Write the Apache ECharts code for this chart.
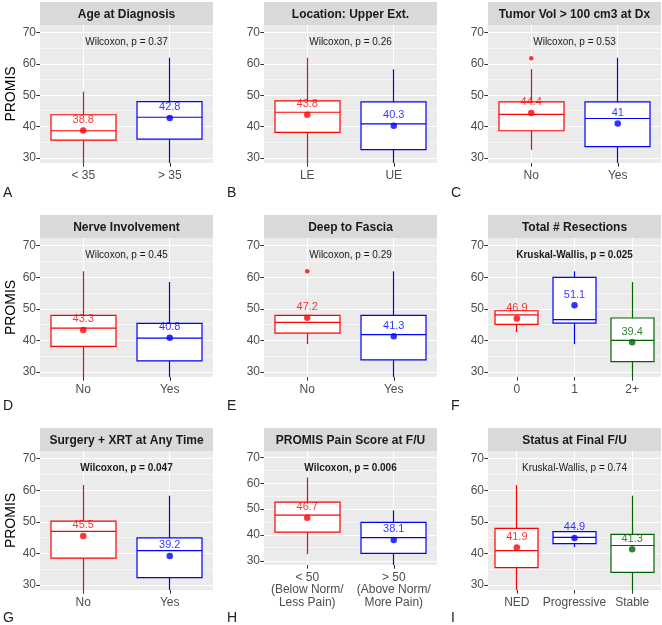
<!DOCTYPE html>
<html>
<head>
<meta charset="utf-8">
<script src="https://cdn.jsdelivr.net/npm/echarts@6/dist/echarts.min.js"></script>
<style>
  html, body { margin: 0; padding: 0; background: #fff; }
  #box { width: 662px; height: 625px; }
</style>
</head>
<body>
<div id="box"></div>
<script>
// 九个面板 (A..I)
var panelTitles = ['Age at Diagnosis', 'Location: Upper Ext.', 'Tumor Vol > 100 cm3 at Dx',
  'Nerve Involvement', 'Deep to Fascia', 'Total # Resections',
  'Surgery + XRT at Any Time', 'PROMIS Pain Score at F/U', 'Status at Final F/U'];
var panelLetters = ['A', 'B', 'C', 'D', 'E', 'F', 'G', 'H', 'I'];
var testLabels = ['Wilcoxon, p = 0.37', 'Wilcoxon, p = 0.26', 'Wilcoxon, p = 0.53',
  'Wilcoxon, p = 0.45', 'Wilcoxon, p = 0.29', 'Kruskal-Wallis, p = 0.025',
  'Wilcoxon, p = 0.047', 'Wilcoxon, p = 0.006', 'Kruskal-Wallis, p = 0.74'];
var testBold = [false, false, false, false, false, true, true, true, false];

var categories = [
  ['< 35', '> 35'],
  ['LE', 'UE'],
  ['No', 'Yes'],
  ['No', 'Yes'],
  ['No', 'Yes'],
  ['0', '1', '2+'],
  ['No', 'Yes'],
  ['< 50\n(Below Norm/\nLess Pain)', '> 50\n(Above Norm/\nMore Pain)'],
  ['NED', 'Progressive', 'Stable']
];

// 箱线: 下须, Q1, 中位数, Q3, 上须
var boxStats = [
  [[27, 35.7, 38.7, 43.8, 51.2], [27, 36, 43, 48, 62]],
  [[27, 38.2, 44.6, 48.2, 62], [27, 32.7, 40.9, 47.9, 58.3]],
  [[32.6, 38.7, 43.9, 47.9, 58.4], [27, 33.6, 42.6, 47.9, 62]],
  [[27, 38.1, 43.9, 47.9, 61.9], [27, 33.5, 40.7, 45.4, 58.5]],
  [[38.8, 42.3, 45.7, 47.9, 47.9], [27, 33.8, 41.8, 47.9, 61.9]],
  [[42.6, 45.1, 48.1, 49.4, 49.4], [38.8, 45.5, 46.6, 60, 61.9], [27, 33.3, 40, 47.1, 58.5]],
  [[27, 38.5, 47, 50.2, 61.7], [27, 32.3, 40.9, 44.9, 58.3]],
  [[32.6, 41.1, 47.7, 52.7, 62.2], [27, 32.9, 39, 44.9, 49.5]],
  [[27, 35.5, 40.9, 47.9, 61.7], [42, 43.1, 45.1, 46.9, 46.9], [27, 34, 42.5, 46, 58.3]]
];

// 均值
var means = [
  [38.8, 42.8], [43.8, 40.3], [44.4, 41],
  [43.3, 40.8], [47.2, 41.3], [46.9, 51.1, 39.4],
  [45.5, 39.2], [46.7, 38.1], [41.9, 44.9, 41.3]
];

// 离群点 [组, 值]
var outliers = [[], [], [[0, 61.8]], [], [[0, 61.9]], [], [], [], []];

var yTicks = [30, 40, 50, 60, 70];
var yMinor = [35, 45, 55, 65];
var groupColors = ['#FF0000', '#0000FF', '#006400'];

// 布局
var colLeft = [40, 264, 488];
var rowTop = [25, 238, 451];
var letterY = [193, 406, 618];
var panelW = 173;
var stripH = 23;
var fontFamily = 'Liberation Sans, Arial, sans-serif';

function panelHeight (i) {
  if (i === 7) return 114;   // H 的标签有三行
  return i < 3 ? 138 : 139;
}

function crisp (v) { return Math.round(v - 0.5) + 0.5; }

//次网格线
function renderMinor (params, api) {
  var cs = params.coordSys;
  var y = crisp(api.coord([0, api.value(1)])[1]);
  return {
    type: 'line',
    shape: { x1: cs.x, y1: y, x2: cs.x + cs.width, y2: y },
    style: { stroke: '#FFFFFF', lineWidth: 0.6 }
  };
}

//箱线
function renderBox (params, api) {
  var cs = params.coordSys;
  var x = api.value(0);
  var low = api.coord([x, api.value(1)]);
  var q1 = api.coord([x, api.value(2)]);
  var med = api.coord([x, api.value(3)]);
  var q3 = api.coord([x, api.value(4)]);
  var high = api.coord([x, api.value(5)]);
  var half = api.size([1, 0])[0] * 0.375;
  var cx = crisp(low[0]);
  var bx = Math.round(cx - half);
  var bw = Math.round(half * 2);
  var color = api.visual('color');
  var lw = 1.2;
  return {
    type: 'group',
    children: [
      { type: 'line', shape: { x1: cx, y1: cs.y, x2: cx, y2: cs.y + cs.height }, style: { stroke: '#FFFFFF', lineWidth: 1.1 } },
      { type: 'line', shape: { x1: cx, y1: low[1], x2: cx, y2: q1[1] }, style: { stroke: color, lineWidth: lw } },
      { type: 'line', shape: { x1: cx, y1: q3[1], x2: cx, y2: high[1] }, style: { stroke: color, lineWidth: lw } },
      { type: 'rect', shape: { x: bx, y: q3[1], width: bw, height: q1[1] - q3[1] }, style: { fill: '#fff', stroke: color, lineWidth: lw } },
      { type: 'line', shape: { x1: bx, y1: med[1], x2: bx + bw, y2: med[1] }, style: { stroke: color, lineWidth: lw } }
    ]
  };
}

function buildOption () {
  var grids = [], xAxes = [], yAxes = [], series = [], graphics = [];

  for (var i = 0; i < 9; i++) {
    var r = Math.floor(i / 3), c = i % 3;
    var gx = colLeft[c], gy = rowTop[r], gh = panelHeight(i);

    grids.push({ left: gx, top: gy, width: panelW, height: gh, show: true, backgroundColor: '#EBEBEB', borderWidth: 0 });

    xAxes.push({
      type: 'category', gridIndex: i, data: categories[i],
      axisLine: { show: false },
      axisTick: { show: true, alignWithLabel: true, length: 3.7, lineStyle: { color: '#333333', width: 1 } },
      axisLabel: { color: '#4D4D4D', fontSize: 12, margin: 6, lineHeight: 12.5, fontFamily: fontFamily, interval: 0 },
      splitLine: { show: false }
    });

    var ya = {
      type: 'value', gridIndex: i, min: 28.4, max: 72.45,
      nameLocation: 'middle', nameGap: 22,
      nameTextStyle: { color: '#000', fontSize: 14, fontFamily: fontFamily },
      axisLine: { show: false },
      axisTick: { show: true, length: 3.7, customValues: yTicks, lineStyle: { color: '#333333', width: 1 } },
      axisLabel: { color: '#4D4D4D', fontSize: 12, margin: 4, customValues: yTicks, fontFamily: fontFamily },
      splitLine: { show: true, lineStyle: { color: '#FFFFFF', width: 1.1 } }
    };
    if (c === 0) ya.name = 'PROMIS';
    yAxes.push(ya);

    series.push({
      type: 'custom', xAxisIndex: i, yAxisIndex: i, z: 1, silent: true,
      renderItem: renderMinor,
      data: yMinor.map(function (v) { return [0, v]; })
    });

    series.push({
      type: 'custom', xAxisIndex: i, yAxisIndex: i, z: 2, clip: true,
      renderItem: renderBox,
      data: boxStats[i].map(function (s, k) {
        return { value: [k].concat(s), itemStyle: { color: groupColors[k] } };
      })
    });

    series.push({
      type: 'scatter', xAxisIndex: i, yAxisIndex: i, z: 3, symbolSize: 6.5,
      data: means[i].map(function (m, k) {
        return { value: [k, m], itemStyle: { color: groupColors[k] }, label: { color: groupColors[k] } };
      }),
      label: {
        show: true, position: 'top', distance: 2, fontSize: 11, fontFamily: fontFamily,
        formatter: function (p) { return String(p.value[1]); }
      }
    });

    if (outliers[i].length) {
      series.push({
        type: 'scatter', xAxisIndex: i, yAxisIndex: i, z: 3, symbolSize: 4.5,
        data: outliers[i].map(function (o) {
          return { value: o, itemStyle: { color: groupColors[o[0]] } };
        })
      });
    }

    // 标题条
    graphics.push({ type: 'rect', x: gx, y: gy - stripH, silent: true,
      shape: { x: 0, y: 0, width: panelW, height: stripH }, style: { fill: '#D9D9D9' } });
    graphics.push({ type: 'text', x: gx + panelW / 2, y: gy - stripH / 2 + 1.5, silent: true,
      style: { text: panelTitles[i], fill: '#1A1A1A', font: 'bold 12px ' + fontFamily, align: 'center', verticalAlign: 'middle' } });
    // 检验
    graphics.push({ type: 'text', x: gx + panelW / 2, y: gy + 17, silent: true, z: 10,
      style: { text: testLabels[i], fill: '#1A1A1A', font: (testBold[i] ? 'bold ' : '') + '10px ' + fontFamily, align: 'center', verticalAlign: 'middle' } });
    // 字母
    graphics.push({ type: 'text', x: c === 0 ? 3 : gx - 37, y: letterY[r], silent: true,
      style: { text: panelLetters[i], fill: '#222', font: '14px ' + fontFamily, align: 'left', verticalAlign: 'middle' } });
  }

  return { animation: false, grid: grids, xAxis: xAxes, yAxis: yAxes, series: series, graphic: graphics };
}

var myChart = echarts.init(document.getElementById('box'));
myChart.setOption(buildOption());
</script>
</body>
</html>
